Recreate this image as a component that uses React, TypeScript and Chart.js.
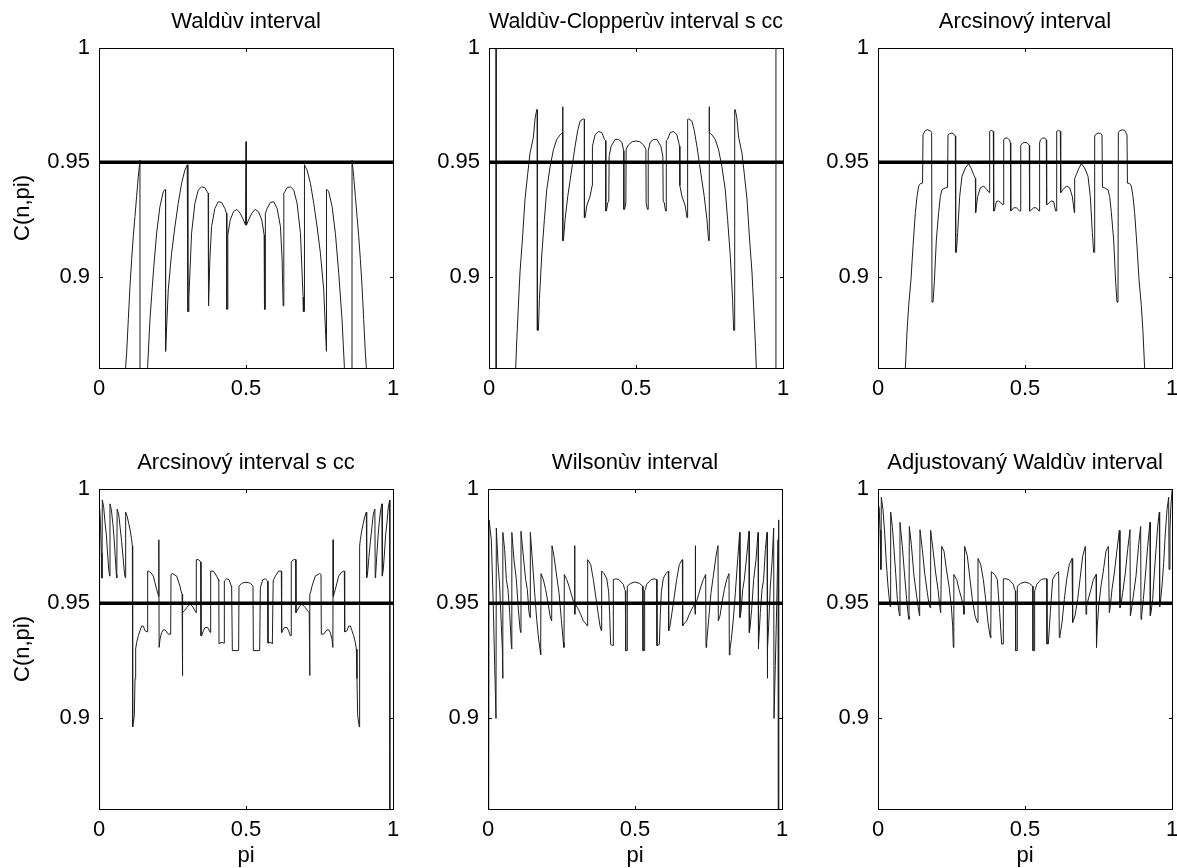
import React, { useEffect, useRef } from "react";
import { Chart, registerables } from "chart.js";

Chart.register(...registerables);

type Pt = [number, number];

// ---- axes / labels ----
const X_TICKS = [0, 0.5, 1];
const X_TICK_LABELS = ["0", "0.5", "1"];
const Y_TICKS = [0.9, 0.95, 1];
const Y_TICK_LABELS = ["0.9", "0.95", "1"];
const Y_MIN = 0.86;
const Y_MAX = 1;
const NOMINAL = 0.95;
const Y_LABEL = "C(n,pi)";
const X_LABEL = "pi";
const TITLES = [
  "Waldùv interval",
  "Waldùv-Clopperùv interval s cc",
  "Arcsinový interval",
  "Arcsinový interval s cc",
  "Wilsonùv interval",
  "Adjustovaný Waldùv interval",
];

// ---- coverage curves: [pi, C(n,pi)] ----
const waldPoints: Pt[] = [
  [0, 0.7], [0.085, 0.84], [0.0906, 0.8603], [0.094, 0.8665], [0.0997, 0.8811], [0.1053, 0.8957],
  [0.111, 0.9074], [0.1166, 0.9176], [0.1223, 0.9263], [0.128, 0.9351], [0.1336, 0.9437], [0.1393, 0.9509],
  [0.1396, 0.8], [0.16, 0.82], [0.1653, 0.8603], [0.1733, 0.8811], [0.1846, 0.9015], [0.1959, 0.9189],
  [0.2072, 0.9306], [0.2186, 0.9371], [0.2242, 0.9381], [0.2262, 0.938], [0.2265, 0.8673], [0.2356, 0.8942],
  [0.2469, 0.9102], [0.2582, 0.9218], [0.2695, 0.932], [0.2809, 0.9408], [0.2922, 0.9466], [0.3001, 0.9488],
  [0.3022, 0.949], [0.3024, 0.8847], [0.3047, 0.8847], [0.3058, 0.891], [0.3148, 0.9189], [0.3262, 0.932],
  [0.3375, 0.9378], [0.3488, 0.9393], [0.3601, 0.9389], [0.3681, 0.9371], [0.3712, 0.9365], [0.3715, 0.8872],
  [0.3737, 0.8872], [0.3771, 0.9073], [0.3828, 0.9218], [0.3941, 0.9298], [0.4054, 0.9327], [0.4168, 0.9325],
  [0.4281, 0.9298], [0.4337, 0.9277], [0.4346, 0.9275], [0.4349, 0.8857], [0.4371, 0.8857], [0.4382, 0.9182],
  [0.4462, 0.9247], [0.4575, 0.9284], [0.4688, 0.9294], [0.4802, 0.9277], [0.4915, 0.9247], [0.4985, 0.9225],
  [0.5, 0.959], [0.5015, 0.9225], [0.5085, 0.9247], [0.5198, 0.9277], [0.5312, 0.9294], [0.5425, 0.9284],
  [0.5538, 0.9247], [0.5618, 0.9182], [0.5629, 0.8857], [0.5651, 0.8857], [0.5654, 0.9275], [0.5663, 0.9277],
  [0.5719, 0.9298], [0.5832, 0.9325], [0.5946, 0.9327], [0.6059, 0.9298], [0.6172, 0.9218], [0.6229, 0.9073],
  [0.6263, 0.8872], [0.6285, 0.8872], [0.6288, 0.9365], [0.6319, 0.9371], [0.6399, 0.9389], [0.6512, 0.9393],
  [0.6625, 0.9378], [0.6738, 0.932], [0.6852, 0.9189], [0.6942, 0.891], [0.6953, 0.8847], [0.6976, 0.8847],
  [0.6978, 0.949], [0.6999, 0.9488], [0.7078, 0.9466], [0.7191, 0.9408], [0.7305, 0.932], [0.7418, 0.9218],
  [0.7531, 0.9102], [0.7644, 0.8942], [0.7735, 0.8673], [0.7738, 0.938], [0.7758, 0.9381], [0.7814, 0.9371],
  [0.7928, 0.9306], [0.8041, 0.9189], [0.8154, 0.9015], [0.8267, 0.8811], [0.8347, 0.8603], [0.84, 0.82],
  [0.8604, 0.8], [0.8607, 0.9509], [0.8664, 0.9437], [0.872, 0.9351], [0.8777, 0.9263], [0.8834, 0.9176],
  [0.889, 0.9074], [0.8947, 0.8957], [0.9003, 0.8811], [0.906, 0.8665], [0.9094, 0.8603], [0.915, 0.84],
  [1, 0.7],
];

const waldClopperPoints: Pt[] = [
  [0, 1.0], [0.024, 1.0], [0.0245, 0.8], [0.085, 0.84], [0.0908, 0.86], [0.0942, 0.8714], [0.0999, 0.887],
  [0.1055, 0.902], [0.1135, 0.916], [0.1226, 0.934], [0.1317, 0.945], [0.1396, 0.954], [0.151, 0.961],
  [0.1566, 0.969], [0.1623, 0.973], [0.1643, 0.973], [0.1645, 0.8765], [0.168, 0.8765], [0.1714, 0.89],
  [0.1793, 0.909], [0.1884, 0.925], [0.1964, 0.938], [0.2077, 0.948], [0.2191, 0.9555], [0.2304, 0.96],
  [0.2418, 0.962], [0.2474, 0.9627], [0.2505, 0.963], [0.2508, 0.9743], [0.2512, 0.9157], [0.2531, 0.9157],
  [0.2588, 0.925], [0.2678, 0.935], [0.2758, 0.942], [0.2837, 0.949], [0.2928, 0.957], [0.3019, 0.964],
  [0.3098, 0.968], [0.3212, 0.969], [0.3244, 0.9688], [0.3246, 0.9258], [0.3268, 0.9258], [0.3325, 0.9309],
  [0.3439, 0.9352], [0.3508, 0.9398], [0.3518, 0.957], [0.3609, 0.962], [0.3722, 0.9635], [0.3836, 0.963],
  [0.3927, 0.96], [0.397, 0.9595], [0.3972, 0.9287], [0.3995, 0.9287], [0.404, 0.9323], [0.4075, 0.933],
  [0.4086, 0.9526], [0.4154, 0.957], [0.429, 0.96], [0.4404, 0.96], [0.4517, 0.9588], [0.4584, 0.955],
  [0.4586, 0.9294], [0.461, 0.9294], [0.4655, 0.9322], [0.4665, 0.9558], [0.475, 0.9577], [0.487, 0.959],
  [0.5, 0.9593], [0.513, 0.959], [0.525, 0.9577], [0.5335, 0.9558], [0.5345, 0.9322], [0.539, 0.9294],
  [0.5414, 0.9294], [0.5416, 0.955], [0.5483, 0.9588], [0.5596, 0.96], [0.571, 0.96], [0.5846, 0.957],
  [0.5914, 0.9526], [0.5925, 0.933], [0.596, 0.9323], [0.6005, 0.9287], [0.6028, 0.9287], [0.603, 0.9595],
  [0.6073, 0.96], [0.6164, 0.963], [0.6278, 0.9635], [0.6391, 0.962], [0.6482, 0.957], [0.6492, 0.9398],
  [0.6561, 0.9352], [0.6675, 0.9309], [0.6732, 0.9258], [0.6754, 0.9258], [0.6756, 0.9688], [0.6788, 0.969],
  [0.6902, 0.968], [0.6981, 0.964], [0.7072, 0.957], [0.7163, 0.949], [0.7242, 0.942], [0.7322, 0.935],
  [0.7412, 0.925], [0.7469, 0.9157], [0.7488, 0.9157], [0.7492, 0.9743], [0.7495, 0.963], [0.7526, 0.9627],
  [0.7582, 0.962], [0.7696, 0.96], [0.7809, 0.9555], [0.7923, 0.948], [0.8036, 0.938], [0.8116, 0.925],
  [0.8207, 0.909], [0.8286, 0.89], [0.832, 0.8765], [0.8355, 0.8765], [0.8357, 0.973], [0.8377, 0.973],
  [0.8434, 0.969], [0.849, 0.961], [0.8604, 0.954], [0.8683, 0.945], [0.8774, 0.934], [0.8865, 0.916],
  [0.8945, 0.902], [0.9001, 0.887], [0.9058, 0.8714], [0.9092, 0.86], [0.915, 0.84], [0.9755, 0.8],
  [0.976, 1.0], [1, 1.0],
];

const arcsinPoints: Pt[] = [
  [0, 0.7], [0.088, 0.84], [0.0931, 0.86], [0.0987, 0.8758], [0.1044, 0.8874], [0.1124, 0.899],
  [0.1192, 0.9135], [0.1271, 0.928], [0.1327, 0.935], [0.1384, 0.9396], [0.1441, 0.9407], [0.1515, 0.9409],
  [0.1531, 0.962], [0.1611, 0.964], [0.169, 0.9642], [0.1781, 0.9638], [0.1825, 0.963], [0.1837, 0.8888],
  [0.1871, 0.8888], [0.1916, 0.8975], [0.1984, 0.916], [0.2063, 0.928], [0.212, 0.935], [0.2177, 0.938],
  [0.229, 0.9388], [0.2365, 0.939], [0.2381, 0.962], [0.2438, 0.9626], [0.2517, 0.9628], [0.2608, 0.962],
  [0.263, 0.9615], [0.2642, 0.9106], [0.2665, 0.9106], [0.271, 0.9193], [0.2778, 0.935], [0.2857, 0.9439],
  [0.297, 0.9475], [0.3084, 0.9494], [0.3163, 0.9475], [0.3254, 0.9446], [0.331, 0.943], [0.3322, 0.928],
  [0.339, 0.935], [0.3481, 0.9388], [0.3594, 0.9396], [0.3707, 0.938], [0.3786, 0.9367], [0.3798, 0.9635],
  [0.3855, 0.964], [0.3922, 0.9635], [0.3934, 0.9287], [0.3958, 0.9287], [0.4026, 0.9328], [0.4106, 0.9331],
  [0.4219, 0.9316], [0.4264, 0.9316], [0.4276, 0.9598], [0.432, 0.9606], [0.44, 0.9606], [0.4475, 0.9598],
  [0.4503, 0.9585], [0.4515, 0.9287], [0.4525, 0.9287], [0.4616, 0.9301], [0.4707, 0.9301], [0.482, 0.9287],
  [0.4843, 0.9287], [0.4855, 0.9575], [0.493, 0.9585], [0.5, 0.9587], [0.507, 0.9585], [0.5145, 0.9575],
  [0.5157, 0.9287], [0.518, 0.9287], [0.5293, 0.9301], [0.5384, 0.9301], [0.5475, 0.9287], [0.5485, 0.9287],
  [0.5497, 0.9585], [0.5525, 0.9598], [0.56, 0.9606], [0.568, 0.9606], [0.5724, 0.9598], [0.5736, 0.9316],
  [0.5781, 0.9316], [0.5894, 0.9331], [0.5974, 0.9328], [0.6042, 0.9287], [0.6066, 0.9287], [0.6078, 0.9635],
  [0.6145, 0.964], [0.6202, 0.9635], [0.6214, 0.9367], [0.6293, 0.938], [0.6406, 0.9396], [0.6519, 0.9388],
  [0.661, 0.935], [0.6678, 0.928], [0.669, 0.943], [0.6746, 0.9446], [0.6837, 0.9475], [0.6916, 0.9494],
  [0.703, 0.9475], [0.7143, 0.9439], [0.7222, 0.935], [0.729, 0.9193], [0.7335, 0.9106], [0.7358, 0.9106],
  [0.737, 0.9615], [0.7392, 0.962], [0.7483, 0.9628], [0.7562, 0.9626], [0.7619, 0.962], [0.7635, 0.939],
  [0.771, 0.9388], [0.7823, 0.938], [0.788, 0.935], [0.7937, 0.928], [0.8016, 0.916], [0.8084, 0.8975],
  [0.8129, 0.8888], [0.8163, 0.8888], [0.8175, 0.963], [0.8219, 0.9638], [0.831, 0.9642], [0.8389, 0.964],
  [0.8469, 0.962], [0.8485, 0.9409], [0.8559, 0.9407], [0.8616, 0.9396], [0.8673, 0.935], [0.8729, 0.928],
  [0.8808, 0.9135], [0.8876, 0.899], [0.8956, 0.8874], [0.9013, 0.8758], [0.9069, 0.86], [0.912, 0.84],
  [1, 0.7],
];

const arcsinCcPoints: Pt[] = [
  [0, 0.7], [0.002, 0.9916], [0.005, 0.985], [0.008, 0.972], [0.0102, 0.961], [0.0113, 0.9952],
  [0.016, 0.992], [0.02, 0.986], [0.025, 0.98], [0.029, 0.972], [0.033, 0.965], [0.0362, 0.9619],
  [0.0374, 0.9935], [0.042, 0.991], [0.047, 0.985], [0.051, 0.979], [0.055, 0.971], [0.059, 0.9625],
  [0.0605, 0.9612], [0.0617, 0.9912], [0.067, 0.989], [0.072, 0.983], [0.077, 0.977], [0.082, 0.97],
  [0.087, 0.9625], [0.0895, 0.9612], [0.0907, 0.9899], [0.096, 0.988], [0.101, 0.985], [0.106, 0.982],
  [0.1111, 0.9778], [0.1135, 0.975], [0.1145, 0.8959], [0.1168, 0.8975], [0.1202, 0.901], [0.1225, 0.917],
  [0.1247, 0.93], [0.1281, 0.9329], [0.1338, 0.9358], [0.1395, 0.938], [0.1451, 0.9401], [0.1508, 0.94],
  [0.1565, 0.938], [0.1644, 0.9375], [0.1655, 0.9641], [0.1678, 0.9641], [0.1769, 0.9633], [0.1848, 0.9619],
  [0.1905, 0.959], [0.1961, 0.9561], [0.1995, 0.9546], [0.2029, 0.953], [0.2035, 0.9778], [0.2045, 0.9307],
  [0.2075, 0.9343], [0.2132, 0.9372], [0.2188, 0.9384], [0.2245, 0.9384], [0.2358, 0.9365], [0.2438, 0.9365],
  [0.2449, 0.9626], [0.2494, 0.963], [0.2642, 0.9619], [0.2755, 0.9575], [0.2789, 0.9554], [0.2825, 0.954],
  [0.2835, 0.9184], [0.285, 0.9459], [0.2903, 0.9467], [0.2982, 0.9481], [0.3095, 0.9496], [0.3175, 0.9488],
  [0.3265, 0.9467], [0.33, 0.9459], [0.331, 0.9691], [0.3379, 0.9691], [0.3435, 0.9685], [0.346, 0.968],
  [0.3469, 0.9358], [0.3492, 0.9358], [0.3549, 0.938], [0.3605, 0.9394], [0.3696, 0.9394], [0.3788, 0.9372],
  [0.3798, 0.9641], [0.3889, 0.9641], [0.4002, 0.9619], [0.4059, 0.9604], [0.4075, 0.96], [0.4082, 0.9322],
  [0.4104, 0.9322], [0.415, 0.9329], [0.4252, 0.9326], [0.4263, 0.9597], [0.4342, 0.9607], [0.4422, 0.9604],
  [0.45, 0.9575], [0.4512, 0.957], [0.4535, 0.9293], [0.475, 0.9293], [0.4762, 0.9575], [0.485, 0.9587],
  [0.4909, 0.959], [0.5, 0.9592], [0.5091, 0.959], [0.515, 0.9587], [0.5238, 0.9575], [0.525, 0.9293],
  [0.5465, 0.9293], [0.5488, 0.957], [0.55, 0.9575], [0.5578, 0.9604], [0.5658, 0.9607], [0.5737, 0.9597],
  [0.5748, 0.9326], [0.585, 0.9329], [0.5896, 0.9322], [0.5918, 0.9322], [0.5925, 0.96], [0.5941, 0.9604],
  [0.5998, 0.9619], [0.6111, 0.9641], [0.6202, 0.9641], [0.6212, 0.9372], [0.6304, 0.9394], [0.6395, 0.9394],
  [0.6451, 0.938], [0.6508, 0.9358], [0.6531, 0.9358], [0.654, 0.968], [0.6565, 0.9685], [0.6621, 0.9691],
  [0.669, 0.9691], [0.67, 0.9459], [0.6735, 0.9467], [0.6825, 0.9488], [0.6905, 0.9496], [0.7018, 0.9481],
  [0.7097, 0.9467], [0.715, 0.9459], [0.7165, 0.9184], [0.7175, 0.954], [0.7211, 0.9554], [0.7245, 0.9575],
  [0.7358, 0.9619], [0.7506, 0.963], [0.7551, 0.9626], [0.7562, 0.9365], [0.7642, 0.9365], [0.7755, 0.9384],
  [0.7812, 0.9384], [0.7868, 0.9372], [0.7925, 0.9343], [0.7955, 0.9307], [0.7965, 0.9778], [0.7971, 0.953],
  [0.8005, 0.9546], [0.8039, 0.9561], [0.8095, 0.959], [0.8152, 0.9619], [0.8231, 0.9633], [0.8322, 0.9641],
  [0.8345, 0.9641], [0.8356, 0.9375], [0.8435, 0.938], [0.8492, 0.94], [0.8549, 0.9401], [0.8605, 0.938],
  [0.8662, 0.9358], [0.8719, 0.9329], [0.8753, 0.93], [0.8775, 0.917], [0.8798, 0.901], [0.8832, 0.8975],
  [0.8855, 0.8959], [0.8865, 0.975], [0.8889, 0.9778], [0.894, 0.982], [0.899, 0.985], [0.904, 0.988],
  [0.9093, 0.9899], [0.9105, 0.9612], [0.913, 0.9625], [0.918, 0.97], [0.923, 0.977], [0.928, 0.983],
  [0.933, 0.989], [0.9383, 0.9912], [0.9395, 0.9612], [0.941, 0.9625], [0.945, 0.971], [0.949, 0.979],
  [0.953, 0.985], [0.958, 0.991], [0.9626, 0.9935], [0.9638, 0.9619], [0.967, 0.965], [0.971, 0.972],
  [0.975, 0.98], [0.98, 0.986], [0.984, 0.992], [0.9887, 0.9952], [0.9893, 0.7], [1, 0.7],
];

const wilsonPoints: Pt[] = [
  [0, 0.6], [0.0035, 0.9865], [0.0113, 0.9778], [0.018, 0.9488], [0.0227, 0.9228], [0.0272, 0.8996],
  [0.0283, 0.9829], [0.034, 0.9677], [0.0397, 0.9575], [0.0454, 0.9401], [0.0488, 0.93], [0.0499, 0.9172],
  [0.051, 0.981], [0.0567, 0.9735], [0.0624, 0.9604], [0.068, 0.956], [0.0737, 0.946], [0.0794, 0.9314],
  [0.0805, 0.93], [0.0816, 0.981], [0.0884, 0.969], [0.0964, 0.9604], [0.1032, 0.9474], [0.1088, 0.939],
  [0.1111, 0.9372], [0.1122, 0.9815], [0.1202, 0.9706], [0.1281, 0.9604], [0.1338, 0.956], [0.1395, 0.946],
  [0.1429, 0.9438], [0.144, 0.981], [0.1508, 0.969], [0.1587, 0.9546], [0.1655, 0.943], [0.1723, 0.9343],
  [0.1769, 0.93], [0.1791, 0.9274], [0.1803, 0.963], [0.1882, 0.9604], [0.1961, 0.956], [0.2041, 0.9503],
  [0.2109, 0.9445], [0.2166, 0.9423], [0.2177, 0.9752], [0.2245, 0.9706], [0.2336, 0.9619], [0.2415, 0.9546],
  [0.2494, 0.943], [0.2562, 0.9329], [0.2585, 0.9307], [0.2596, 0.9626], [0.2676, 0.9604], [0.2755, 0.9575],
  [0.2834, 0.9539], [0.2902, 0.951], [0.294, 0.9503], [0.2948, 0.9752], [0.2955, 0.9452], [0.2971, 0.9496],
  [0.3073, 0.9474], [0.3152, 0.9452], [0.3243, 0.9423], [0.3334, 0.941], [0.3379, 0.9401], [0.339, 0.9691],
  [0.3492, 0.967], [0.3583, 0.9604], [0.3662, 0.9532], [0.3741, 0.946], [0.381, 0.9401], [0.3855, 0.938],
  [0.3866, 0.9641], [0.3946, 0.963], [0.4036, 0.961], [0.4104, 0.955], [0.4138, 0.945], [0.4172, 0.932],
  [0.4252, 0.9315], [0.4263, 0.9604], [0.435, 0.9607], [0.445, 0.9604], [0.4603, 0.9583], [0.4649, 0.956],
  [0.4672, 0.9555], [0.4683, 0.9293], [0.4728, 0.9293], [0.4739, 0.9575], [0.485, 0.9587], [0.5, 0.9593],
  [0.515, 0.9587], [0.5261, 0.9575], [0.5272, 0.9293], [0.5317, 0.9293], [0.5328, 0.9555], [0.5351, 0.956],
  [0.5397, 0.9583], [0.555, 0.9604], [0.565, 0.9607], [0.5737, 0.9604], [0.5748, 0.9315], [0.5828, 0.932],
  [0.5862, 0.945], [0.5896, 0.955], [0.5964, 0.961], [0.6054, 0.963], [0.6134, 0.9641], [0.6145, 0.938],
  [0.619, 0.9401], [0.6259, 0.946], [0.6338, 0.9532], [0.6417, 0.9604], [0.6508, 0.967], [0.661, 0.9691],
  [0.6621, 0.9401], [0.6666, 0.941], [0.6757, 0.9423], [0.6848, 0.9452], [0.6927, 0.9474], [0.7029, 0.9496],
  [0.7045, 0.9452], [0.7052, 0.9752], [0.706, 0.9503], [0.7098, 0.951], [0.7166, 0.9539], [0.7245, 0.9575],
  [0.7324, 0.9604], [0.7404, 0.9626], [0.7415, 0.9307], [0.7438, 0.9329], [0.7506, 0.943], [0.7585, 0.9546],
  [0.7664, 0.9619], [0.7755, 0.9706], [0.7823, 0.9752], [0.7834, 0.9423], [0.7891, 0.9445], [0.7959, 0.9503],
  [0.8039, 0.956], [0.8118, 0.9604], [0.8197, 0.963], [0.8209, 0.9274], [0.8231, 0.93], [0.8277, 0.9343],
  [0.8345, 0.943], [0.8413, 0.9546], [0.8492, 0.969], [0.856, 0.981], [0.8571, 0.9438], [0.8605, 0.946],
  [0.8662, 0.956], [0.8719, 0.9604], [0.8798, 0.9706], [0.8878, 0.9815], [0.8889, 0.9372], [0.8912, 0.939],
  [0.8968, 0.9474], [0.9036, 0.9604], [0.9116, 0.969], [0.9184, 0.981], [0.9195, 0.93], [0.9206, 0.9314],
  [0.9263, 0.946], [0.932, 0.956], [0.9376, 0.9604], [0.9433, 0.9735], [0.949, 0.981], [0.9501, 0.9172],
  [0.9512, 0.93], [0.9546, 0.9401], [0.9603, 0.9575], [0.966, 0.9677], [0.9717, 0.9829], [0.9728, 0.8996],
  [0.9773, 0.9228], [0.982, 0.9488], [0.9865, 0.9778], [0.9885, 0.9865], [0.989, 0.6], [1, 0.6],
];

const adjustedWaldPoints: Pt[] = [
  [0, 0.993], [0.004, 0.992], [0.007, 0.982], [0.01, 0.9648], [0.0113, 0.9964], [0.017, 0.9909],
  [0.0227, 0.9807], [0.0283, 0.9677], [0.034, 0.9575], [0.0408, 0.9488], [0.042, 0.9485], [0.0431, 0.9899],
  [0.0488, 0.9836], [0.0544, 0.9735], [0.0601, 0.9633], [0.0658, 0.9517], [0.0714, 0.946], [0.0737, 0.9445],
  [0.0748, 0.9854], [0.0828, 0.9749], [0.0907, 0.9619], [0.0975, 0.9517], [0.1032, 0.9445], [0.1054, 0.943],
  [0.1066, 0.9836], [0.1134, 0.9757], [0.1224, 0.9619], [0.1315, 0.9532], [0.1383, 0.9467], [0.1417, 0.9445],
  [0.1429, 0.9822], [0.1508, 0.9735], [0.1587, 0.9633], [0.1678, 0.9546], [0.1735, 0.9496], [0.1769, 0.9481],
  [0.1791, 0.9819], [0.187, 0.9735], [0.1961, 0.9633], [0.2041, 0.9561], [0.2098, 0.9488], [0.2132, 0.9459],
  [0.2166, 0.9749], [0.2245, 0.9728], [0.2336, 0.9641], [0.2415, 0.9575], [0.2494, 0.9488], [0.254, 0.94],
  [0.2562, 0.9307], [0.2574, 0.9307], [0.2585, 0.9626], [0.2676, 0.9604], [0.2755, 0.9561], [0.2834, 0.9525],
  [0.2902, 0.9488], [0.2925, 0.9452], [0.2948, 0.9749], [0.3039, 0.9706], [0.313, 0.9604], [0.3209, 0.9517],
  [0.33, 0.9445], [0.3379, 0.9416], [0.3401, 0.9696], [0.3492, 0.967], [0.3583, 0.9604], [0.3662, 0.9517],
  [0.3741, 0.9416], [0.381, 0.9358], [0.3833, 0.935], [0.3855, 0.9638], [0.3968, 0.9626], [0.4059, 0.9604],
  [0.4138, 0.946], [0.4206, 0.9322], [0.4252, 0.9322], [0.4263, 0.9607], [0.435, 0.9607], [0.445, 0.9604],
  [0.4603, 0.9583], [0.4649, 0.956], [0.4672, 0.9555], [0.4683, 0.9293], [0.4728, 0.9293], [0.4739, 0.9575],
  [0.485, 0.9587], [0.5, 0.9593], [0.515, 0.9587], [0.5261, 0.9575], [0.5272, 0.9293], [0.5317, 0.9293],
  [0.5328, 0.9555], [0.5351, 0.956], [0.5397, 0.9583], [0.555, 0.9604], [0.565, 0.9607], [0.5737, 0.9607],
  [0.5748, 0.9322], [0.5794, 0.9322], [0.5862, 0.946], [0.5941, 0.9604], [0.6032, 0.9626], [0.6145, 0.9638],
  [0.6167, 0.935], [0.619, 0.9358], [0.6259, 0.9416], [0.6338, 0.9517], [0.6417, 0.9604], [0.6508, 0.967],
  [0.6599, 0.9696], [0.6621, 0.9416], [0.67, 0.9445], [0.6791, 0.9517], [0.687, 0.9604], [0.6961, 0.9706],
  [0.7052, 0.9749], [0.7075, 0.9452], [0.7098, 0.9488], [0.7166, 0.9525], [0.7245, 0.9561], [0.7324, 0.9604],
  [0.7415, 0.9626], [0.7426, 0.9307], [0.7438, 0.9307], [0.746, 0.94], [0.7506, 0.9488], [0.7585, 0.9575],
  [0.7664, 0.9641], [0.7755, 0.9728], [0.7834, 0.9749], [0.7868, 0.9459], [0.7902, 0.9488], [0.7959, 0.9561],
  [0.8039, 0.9633], [0.813, 0.9735], [0.8209, 0.9819], [0.8231, 0.9481], [0.8265, 0.9496], [0.8322, 0.9546],
  [0.8413, 0.9633], [0.8492, 0.9735], [0.8571, 0.9822], [0.8583, 0.9445], [0.8617, 0.9467], [0.8685, 0.9532],
  [0.8776, 0.9619], [0.8866, 0.9757], [0.8934, 0.9836], [0.8946, 0.943], [0.8968, 0.9445], [0.9025, 0.9517],
  [0.9093, 0.9619], [0.9172, 0.9749], [0.9252, 0.9854], [0.9263, 0.9445], [0.9286, 0.946], [0.9342, 0.9517],
  [0.9399, 0.9633], [0.9456, 0.9735], [0.9512, 0.9836], [0.9569, 0.9899], [0.958, 0.9485], [0.9592, 0.9488],
  [0.966, 0.9575], [0.9717, 0.9677], [0.9773, 0.9807], [0.983, 0.9909], [0.9887, 0.9964], [0.99, 0.9648],
  [0.993, 0.982], [0.996, 0.992], [1, 0.9993],
];

// ---- layout (pixels) ----
const FONT_FAMILY = '"Liberation Sans", Arial, Helvetica, sans-serif';
const FONT_SIZE = 22;
const Y_AXIS_W = 99;
const PLOT_W = 294;
const PLOT_H = 320;
const TITLE_BLOCK = 41;
const RIGHT_PAD = 8;

const PANELS = [
  { title: TITLES[0], data: waldPoints, plotLeft: 99, plotTop: 48, yLabel: true, xLabel: false },
  { title: TITLES[1], data: waldClopperPoints, plotLeft: 489, plotTop: 48, yLabel: false, xLabel: false },
  { title: TITLES[2], data: arcsinPoints, plotLeft: 878, plotTop: 48, yLabel: false, xLabel: false },
  { title: TITLES[3], data: arcsinCcPoints, plotLeft: 99, plotTop: 489, yLabel: true, xLabel: true },
  { title: TITLES[4], data: wilsonPoints, plotLeft: 488, plotTop: 489, yLabel: false, xLabel: true },
  { title: TITLES[5], data: adjustedWaldPoints, plotLeft: 878, plotTop: 489, yLabel: false, xLabel: true },
];

const framePlugin = {
  id: "matlabFrame",
  afterDatasetsDraw(chart: any) {
    const { ctx, chartArea, scales } = chart;
    const { left, right, top, bottom } = chartArea;
    const xs = scales.x;
    const ys = scales.y;
    const L = 4;
    ctx.save();
    ctx.strokeStyle = "#000";
    ctx.lineWidth = 1;
    ctx.beginPath();
    ctx.rect(left + 0.5, top + 0.5, right - left, bottom - top);
    Y_TICKS.forEach((v) => {
      const py = Math.round(ys.getPixelForValue(v)) + 0.5;
      ctx.moveTo(left, py);
      ctx.lineTo(left + L, py);
      ctx.moveTo(right + 1, py);
      ctx.lineTo(right + 1 - L, py);
    });
    X_TICKS.forEach((v) => {
      const px = Math.round(xs.getPixelForValue(v)) + 0.5;
      ctx.moveTo(px, bottom + 1);
      ctx.lineTo(px, bottom + 1 - L);
      ctx.moveTo(px, top);
      ctx.lineTo(px, top + L);
    });
    ctx.stroke();
    ctx.restore();
  },
};

function Panel(props: {
  title: string;
  data: Pt[];
  plotLeft: number;
  plotTop: number;
  yLabel: boolean;
  xLabel: boolean;
}) {
  const { title, data, plotLeft, plotTop, yLabel, xLabel } = props;
  const ref = useRef<HTMLCanvasElement | null>(null);
  const xAxisH = xLabel ? 59 : 40;
  const width = Y_AXIS_W + PLOT_W + RIGHT_PAD;
  const height = TITLE_BLOCK + PLOT_H + xAxisH;

  useEffect(() => {
    if (!ref.current) return;
    const font = { family: FONT_FAMILY, size: FONT_SIZE, weight: "normal" as const, lineHeight: 1 };
    const chart = new Chart(ref.current, {
      type: "line",
      data: {
        datasets: [
          {
            data: [
              { x: 0, y: NOMINAL },
              { x: 1, y: NOMINAL },
            ],
            borderColor: "#000",
            borderWidth: 3.5,
            pointRadius: 0,
          },
          {
            data: data.map(([x, y]) => ({ x, y })),
            borderColor: "#1e1e1e",
            borderWidth: 1,
            pointRadius: 0,
            tension: 0,
          },
        ],
      },
      options: {
        responsive: false,
        animation: false,
        events: [],
        layout: { padding: { left: 0, right: RIGHT_PAD, top: 0, bottom: 0 } },
        plugins: {
          legend: { display: false },
          tooltip: { enabled: false },
          title: {
            display: true,
            text: title,
            fullSize: false,
            color: "#000",
            font,
            padding: { top: 4, bottom: 15 },
          },
        },
        scales: {
          x: {
            type: "linear",
            position: "bottom",
            min: 0,
            max: 1,
            grid: { display: false, drawTicks: false },
            border: { display: false },
            afterBuildTicks: (s: any) => {
              s.ticks = X_TICKS.map((v) => ({ value: v }));
            },
            ticks: {
              autoSkip: false,
              maxRotation: 0,
              padding: 10,
              color: "#000",
              font,
              callback: (v: any) => {
                const i = X_TICKS.indexOf(Number(v));
                return i >= 0 ? X_TICK_LABELS[i] : "";
              },
            },
            title: {
              display: xLabel,
              text: X_LABEL,
              color: "#000",
              font,
              padding: { top: 0, bottom: 1 },
            },
            afterFit: (s: any) => {
              s.height = xAxisH;
              s.paddingLeft = 0;
              s.paddingRight = 0;
            },
          },
          y: {
            type: "linear",
            position: "left",
            min: Y_MIN,
            max: Y_MAX,
            grid: { display: false, drawTicks: false },
            border: { display: false },
            afterBuildTicks: (s: any) => {
              s.ticks = Y_TICKS.map((v) => ({ value: v }));
            },
            ticks: {
              autoSkip: false,
              padding: 9,
              color: "#000",
              font,
              callback: (v: any) => {
                const i = Y_TICKS.findIndex((t) => Math.abs(t - Number(v)) < 1e-9);
                return i >= 0 ? Y_TICK_LABELS[i] : "";
              },
            },
            title: {
              display: yLabel,
              text: Y_LABEL,
              color: "#000",
              font,
              padding: { top: 12, bottom: 0 },
            },
            afterFit: (s: any) => {
              s.width = Y_AXIS_W;
              s.paddingTop = 0;
              s.paddingBottom = 0;
            },
          },
        },
      },
      plugins: [framePlugin],
    });
    return () => chart.destroy();
  }, [title, data, yLabel, xLabel, xAxisH]);

  return (
    <canvas
      ref={ref}
      width={width}
      height={height}
      style={{
        position: "absolute",
        left: plotLeft - Y_AXIS_W,
        top: plotTop - TITLE_BLOCK,
        width,
        height,
      }}
    />
  );
}

export default function App() {
  return (
    <div
      style={{
        position: "absolute",
        left: 0,
        top: 0,
        width: 1177,
        height: 868,
        overflow: "hidden",
        background: "#fff",
      }}
    >
      {PANELS.map((p, i) => (
        <Panel key={i} {...p} />
      ))}
    </div>
  );
}
